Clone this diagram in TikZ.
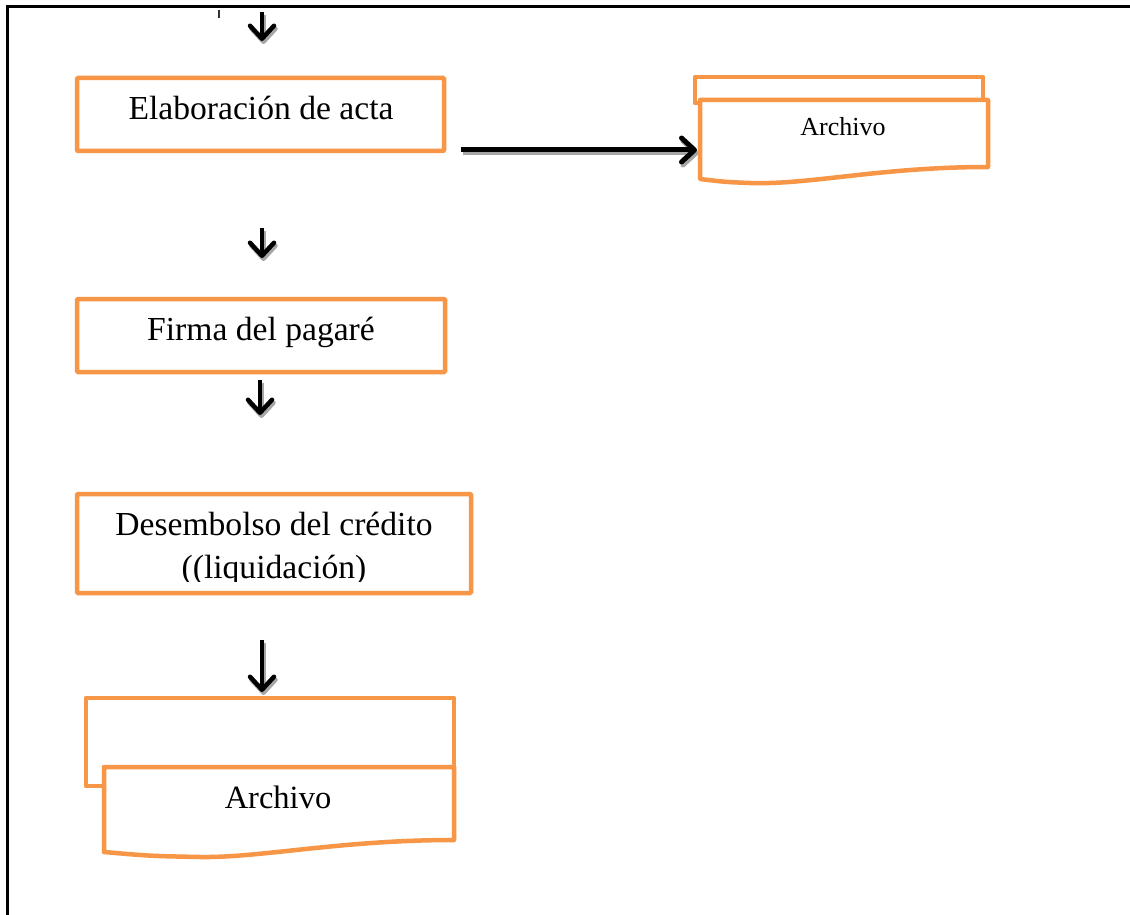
\documentclass[tikz,border=0pt]{standalone}
\usepackage{fontspec}
\setmainfont{Liberation Serif}
\usetikzlibrary{arrows.meta}
\definecolor{flowor}{HTML}{F79646}
\begin{document}
\begin{tikzpicture}[x=1pt,y=-1pt,
  procbox/.style={draw=flowor, line width=4.5pt, fill=white, rounded corners=1pt, inner sep=0pt},
  docline/.style={draw=flowor, line width=4.5pt, fill=white, line join=round},
  lbl/.style={anchor=base, inner sep=0pt, font=\fontsize{33.6}{42}\selectfont},
  flowarrow/.style={line width=4.5pt, -{Straight Barb[length=13pt,width=24pt,line cap=round,line join=round]}},
  arrowshadow/.style={flowarrow, draw=black!35, transform canvas={xshift=1.5pt,yshift=-3pt}},
]
\useasboundingbox (0,0) rectangle (1130,915);
\fill[white] (0,0) rectangle (1130,915);

% page frame (left and top rules)
\draw[line width=3pt] (7,915) -- (7,7) -- (1130,7);
\draw[line width=2.5pt, black!80] (219,10) -- (219,18);

% process boxes
\node[procbox, minimum width=367pt, minimum height=73pt] (acta) at (260.5,114.5) {};
\node[lbl] (actaT) at (261,120) {Elaboración de acta};

\node[procbox, minimum width=368pt, minimum height=73pt] (firma) at (261,335.5) {};
\node[lbl] (firmaT) at (261,340) {Firma del pagaré};

\node[procbox, minimum width=394pt, minimum height=99pt] (desem) at (274,543.5) {};
\node[lbl] (desemT1) at (274,535) {Desembolso del crédito};
\begin{scope}
  \clip (77,494) rectangle (471,581);
  \node[lbl] (desemT2) at (274,578) {((liquidación)};
\end{scope}

% multi-document symbol, top right
\path[docline] (695,77) rectangle (983,103);
\path[docline] (700,100) -- (988,100) -- (988,167)
  .. controls (880,167) and (810,185) .. (750,183)
  .. controls (725,182) .. (700,179) -- cycle;
\node[anchor=base, inner sep=0pt, font=\fontsize{26}{30}\selectfont] (archivoA) at (843,136) {Archivo};

% multi-document symbol, bottom
\path[docline] (86,698) rectangle (454,786);
\path[docline] (104,767) -- (454,767) -- (454,840)
  .. controls (340,840) and (260,858) .. (200,857)
  .. controls (150,856) .. (104,852) -- cycle;
\node[lbl, font=\fontsize{32.5}{40}\selectfont] (archivoB) at (278,808) {Archivo};

% arrow end points
\coordinate (d1a) at (262,12);  \coordinate (d1b) at (262,41);
\coordinate (d2a) at (262,228); \coordinate (d2b) at (262,258);
\coordinate (d3a) at (260,380); \coordinate (d3b) at (260,415);
\coordinate (d4a) at (262,640); \coordinate (d4b) at (262,692);
\coordinate (h1a) at (461,150); \coordinate (h1b) at (697,150);

% shadows
\foreach \s/\e in {d1a/d1b,d2a/d2b,d3a/d3b,d4a/d4b}
  \draw[arrowshadow] (\s) -- (\e);
\draw[arrowshadow, line width=5pt] (h1a) -- (h1b);

% arrows
\foreach \s/\e in {d1a/d1b,d2a/d2b,d3a/d3b,d4a/d4b}
  \draw[flowarrow] (\s) -- (\e);
\draw[flowarrow, line width=5pt] (h1a) -- (h1b);
\end{tikzpicture}
\end{document}
